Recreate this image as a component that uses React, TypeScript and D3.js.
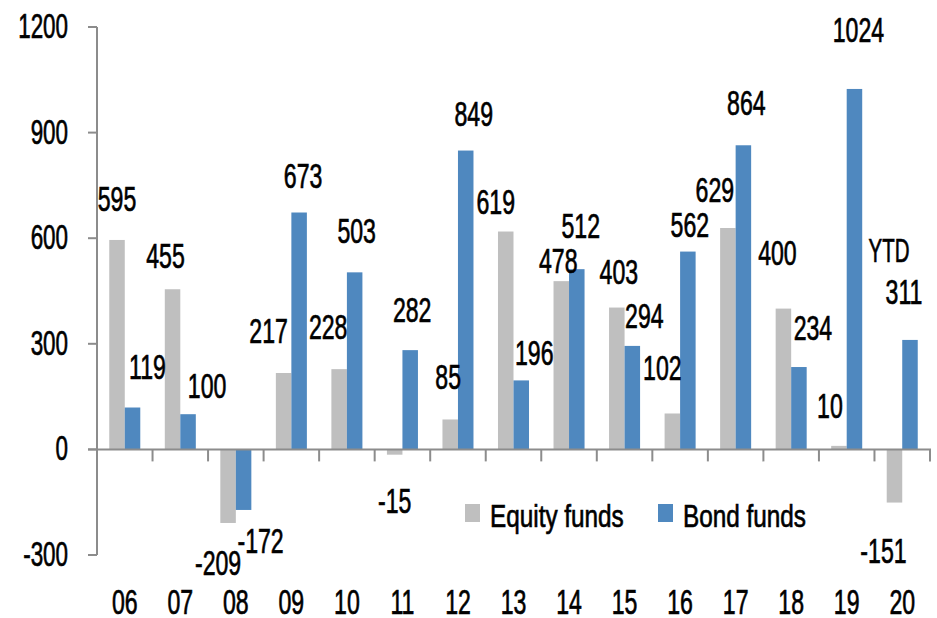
import React from "react";
import * as d3 from "d3";

const years = ["06", "07", "08", "09", "10", "11", "12", "13", "14", "15", "16", "17", "18", "19", "20"];
const equityFunds = [595, 455, -209, 217, 228, -15, 85, 619, 478, 403, 102, 629, 400, 10, -151];
const bondFunds = [119, 100, -172, 673, 503, 282, 849, 196, 512, 294, 562, 864, 234, 1024, 311];
const yTicks = [-300, 0, 300, 600, 900, 1200];
const seriesNames = ["Equity funds", "Bond funds"];

// hand placed label nudges (px) from the bar centre / bar end, as in the original
const equityNudge = [
  [0, -29], [-7, -21], [-10, 52], [-15, -30], [-11, -30], [0, 58], [-2, -30], [-10, -18],
  [-3, -8], [2, -24], [-10, -33], [-13, -26], [-6, -44], [-9, -28], [-11, 60],
];
const bondNudge = [
  [15, -29], [19, -16], [17, 43], [4, -25], [2, -29], [2, -28], [8, -25], [13, -15],
  [4, -31], [12, -18], [2, -15], [3, -30], [14, -27], [4, -47], [-6, -36],
];

const W = 937;
const H = 618;
const colors = ["#BFBFBF", "#4F88BF"];
const axisColor = "#8C8C8C";
const font = "'Liberation Sans', Arial, sans-serif";

const Label = ({ x, y, text, anchor = "middle", size = 35, sx = 0.66 }) => (
  <text
    transform={`translate(${x},${y}) scale(${sx},1)`}
    textAnchor={anchor}
    fontFamily={font}
    fontSize={size}
    fill="#000"
    stroke="#000"
    strokeWidth={0.7}
  >
    {text}
  </text>
);

export default function App() {
  const x = d3.scaleBand().domain(years).range([97, 930]);
  const inner = d3
    .scaleBand()
    .domain(seriesNames)
    .range([0, x.bandwidth()])
    .paddingInner(0)
    .paddingOuter(0.79);
  const y = d3.scaleLinear().domain([-300, 1200]).range([555, 27]);
  const y0 = y(0);

  const series = [
    { name: seriesNames[0], values: equityFunds, nudge: equityNudge, color: colors[0] },
    { name: seriesNames[1], values: bondFunds, nudge: bondNudge, color: colors[1] },
  ];

  return (
    <svg
      width={W}
      height={H}
      style={{ position: "absolute", left: 0, top: 0, background: "#fff" }}
    >
      {/* bars */}
      {series.map((s) =>
        s.values.map((v, i) => {
          const bx = x(years[i]) + inner(s.name);
          return (
            <rect
              key={s.name + i}
              x={bx}
              y={Math.min(y(v), y0)}
              width={inner.bandwidth()}
              height={Math.abs(y(v) - y0)}
              fill={s.color}
            />
          );
        })
      )}

      {/* y axis */}
      <line x1={97} x2={97} y1={y(1200)} y2={y(-300)} stroke={axisColor} strokeWidth={2} />
      {yTicks.map((t) => (
        <g key={t}>
          <line x1={88} x2={97} y1={y(t)} y2={y(t)} stroke={axisColor} strokeWidth={2} />
          <Label x={68} y={y(t) + 11} text={String(t)} anchor="end" sx={0.64} />
        </g>
      ))}

      {/* x axis */}
      <line x1={88} x2={931} y1={y0} y2={y0} stroke={axisColor} strokeWidth={2} />
      {[...years.map((d) => x(d)), 930].map((tx, i) => (
        <line key={i} x1={tx} x2={tx} y1={y0} y2={y0 + 12} stroke={axisColor} strokeWidth={2} />
      ))}
      {years.map((d) => (
        <Label key={d} x={x(d) + x.bandwidth() / 2} y={614} text={d} />
      ))}

      {/* data labels */}
      {series.map((s) =>
        s.values.map((v, i) => {
          const cx = x(years[i]) + inner(s.name) + inner.bandwidth() / 2;
          const [dx, dy] = s.nudge[i];
          return <Label key={"l" + s.name + i} x={cx + dx} y={y(v) + dy} text={String(v)} />;
        })
      )}
      <Label x={889} y={262} text="YTD" size={33} sx={0.62} />

      {/* legend */}
      {series.map((s, i) => {
        const lx = i === 0 ? 465 : 658;
        return (
          <g key={"lg" + s.name}>
            <rect x={lx} y={504} width={15} height={18} fill={s.color} />
            <Label x={lx + 25} y={527} text={s.name} anchor="start" size={32} sx={0.76} />
          </g>
        );
      })}
    </svg>
  );
}
